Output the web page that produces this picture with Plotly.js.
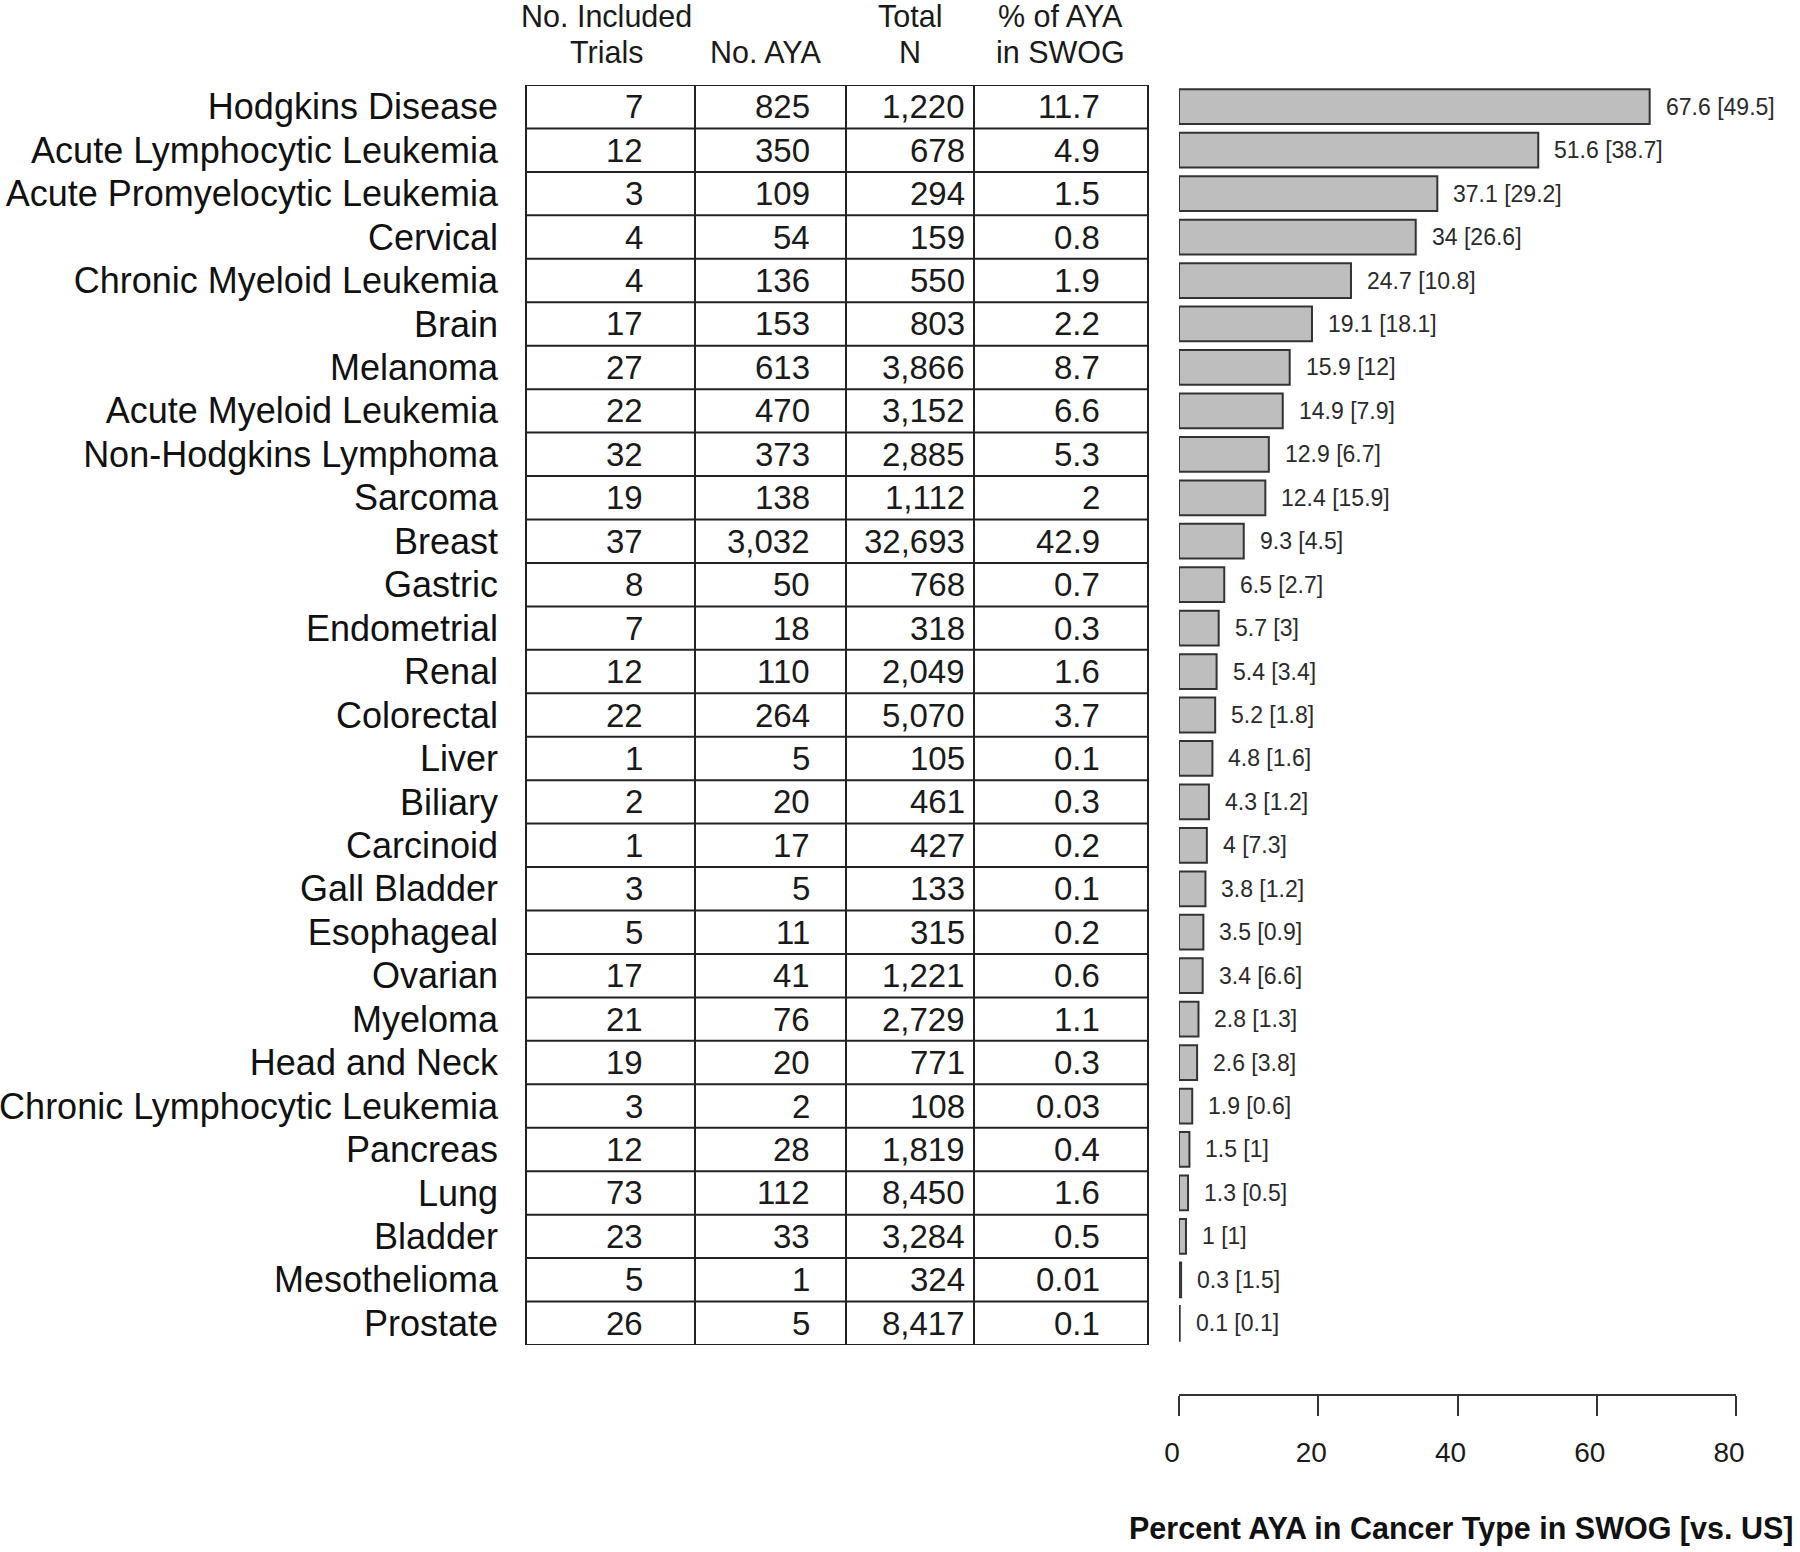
<!DOCTYPE html>
<html>
<head>
<meta charset="utf-8">
<script src="https://cdn.plot.ly/plotly-3.0.1.min.js"></script>
<style>html,body{margin:0;padding:0;background:#fff;}#chart{width:1800px;height:1552px;}</style>
</head>
<body>
<div id="chart"></div>
<script>
const categories = ["Hodgkins Disease","Acute Lymphocytic Leukemia","Acute Promyelocytic Leukemia","Cervical","Chronic Myeloid Leukemia","Brain","Melanoma","Acute Myeloid Leukemia","Non-Hodgkins Lymphoma","Sarcoma","Breast","Gastric","Endometrial","Renal","Colorectal","Liver","Biliary","Carcinoid","Gall Bladder","Esophageal","Ovarian","Myeloma","Head and Neck","Chronic Lymphocytic Leukemia","Pancreas","Lung","Bladder","Mesothelioma","Prostate"];
const trials = [7,12,3,4,4,17,27,22,32,19,37,8,7,12,22,1,2,1,3,5,17,21,19,3,12,73,23,5,26];
const nAYA = [825,350,109,54,136,153,613,470,373,138,3032,50,18,110,264,5,20,17,5,11,41,76,20,2,28,112,33,1,5];
const totalN = [1220,678,294,159,550,803,3866,3152,2885,1112,32693,768,318,2049,5070,105,461,427,133,315,1221,2729,771,108,1819,8450,3284,324,8417];
const pctOfAYAinSWOG = [11.7,4.9,1.5,0.8,1.9,2.2,8.7,6.6,5.3,2,42.9,0.7,0.3,1.6,3.7,0.1,0.3,0.2,0.1,0.2,0.6,1.1,0.3,0.03,0.4,1.6,0.5,0.01,0.1];
const pctSWOG = [67.6,51.6,37.1,34,24.7,19.1,15.9,14.9,12.9,12.4,9.3,6.5,5.7,5.4,5.2,4.8,4.3,4,3.8,3.5,3.4,2.8,2.6,1.9,1.5,1.3,1,0.3,0.1];
const pctUS = [49.5,38.7,29.2,26.6,10.8,18.1,12,7.9,6.7,15.9,4.5,2.7,3,3.4,1.8,1.6,1.2,7.3,1.2,0.9,6.6,1.3,3.8,0.6,1,0.5,1,1.5,0.1];
const headerLine1 = ["No. Included","","Total","% of AYA"];
const headerLine2 = ["Trials","No. AYA","N","in SWOG"];
const xTickVals = [0,20,40,60,80];
const xTitle = "Percent AYA in Cancer Type in SWOG [vs. US]";

const W = 1800, H = 1552;
const px = v => v / W;
const py = v => 1 - v / H;
const FONT = "'Liberation Sans', Arial, Helvetica, sans-serif";

// table geometry (pixels)
const tableLeft = 526, tableRight = 1148;
const colDividers = [695, 846, 974];
const colRight = [645, 812, 967, 1102];
const colCenter = [606, 765, 910, 1060];
const tableTop = 85, tableBottom = 1345;

const n = categories.length;
const fmt = v => v.toLocaleString('en-US');

const columns = [trials.map(fmt), nAYA.map(fmt), totalN.map(fmt), pctOfAYAinSWOG.map(String)];

const annotations = [];
columns.forEach((col, c) => {
  col.forEach((txt, i) => {
    annotations.push({xref:'paper', yref:'y', x: px(colRight[c]), y: categories[i], text: txt,
      xanchor:'right', yanchor:'middle', showarrow:false, font:{family:FONT, size:33, color:'#1a1a1a'}});
  });
});
headerLine1.forEach((t, c) => {
  if (t) annotations.push({xref:'paper', yref:'paper', x: px(colCenter[c]), y: py(16), text:t,
    xanchor:'center', yanchor:'middle', showarrow:false, font:{family:FONT, size:30.5, color:'#1a1a1a'}});
});
headerLine2.forEach((t, c) => {
  annotations.push({xref:'paper', yref:'paper', x: px(colCenter[c]), y: py(52), text:t,
    xanchor:'center', yanchor:'middle', showarrow:false, font:{family:FONT, size:30.5, color:'#1a1a1a'}});
});
pctSWOG.forEach((v, i) => {
  annotations.push({xref:'x', yref:'y', x: v, y: categories[i], text: v + ' [' + pctUS[i] + ']',
    xanchor:'left', yanchor:'middle', xshift: 14, showarrow:false, font:{family:FONT, size:23, color:'#2a2a2a'}});
});
annotations.push({xref:'paper', yref:'paper', x: px(1795), y: py(1528), text: '<b>' + xTitle + '</b>',
  xanchor:'right', yanchor:'middle', showarrow:false, font:{family:FONT, size:30.5, color:'#111'}});

const lineStyle = {color:'#222', width:2};
const shapes = [];
shapes.push({type:'rect', xref:'paper', yref:'y', x0: px(tableLeft), x1: px(tableRight), y0: -0.5, y1: n - 0.5, line: lineStyle});
for (let i = 0; i < n - 1; i++) {
  shapes.push({type:'line', xref:'paper', yref:'y', x0: px(tableLeft), x1: px(tableRight), y0: i + 0.5, y1: i + 0.5, line: lineStyle});
}
colDividers.forEach(xd => {
  shapes.push({type:'line', xref:'paper', yref:'y', x0: px(xd), x1: px(xd), y0: -0.5, y1: n - 0.5, line: lineStyle});
});

const trace = {
  type:'bar', orientation:'h', x: pctSWOG, y: categories, width: 0.8,
  marker:{color:'#bebebe', line:{color:'#333', width:2}},
  hoverinfo:'skip', cliponaxis:false
};

const layout = {
  width: W, height: H, margin:{l:0, r:0, t:0, b:0}, paper_bgcolor:'#fff', plot_bgcolor:'rgba(0,0,0,0)',
  showlegend:false,
  font:{family:FONT, color:'#1a1a1a'},
  xaxis:{domain:[px(1179), px(1736)], range:[0,80], tickvals:xTickVals, ticktext:xTickVals.map(String),
    anchor:'free', position: 1 - 1395 / H, showline:true, linecolor:'#333', linewidth:2,
    ticks:'outside', ticklen:20, tickwidth:2, tickcolor:'#333', showgrid:false, zeroline:false,
    tickfont:{family:FONT, size:28, color:'#1a1a1a'}, ticklabelstandoff: 12, ticklabelshift: -7},
  yaxis:{domain:[1 - tableBottom / H, 1 - tableTop / H], type:'category', categoryarray: categories,
    range:[n - 0.5, -0.5], anchor:'free', position: px(tableLeft), showline:false, ticks:'',
    showgrid:false, zeroline:false, ticklabelstandoff: 28,
    tickfont:{family:FONT, size:36, color:'#111'}},
  annotations, shapes
};

Plotly.newPlot('chart', [trace], layout, {staticPlot:true, displayModeBar:false});
</script>
</body>
</html>
